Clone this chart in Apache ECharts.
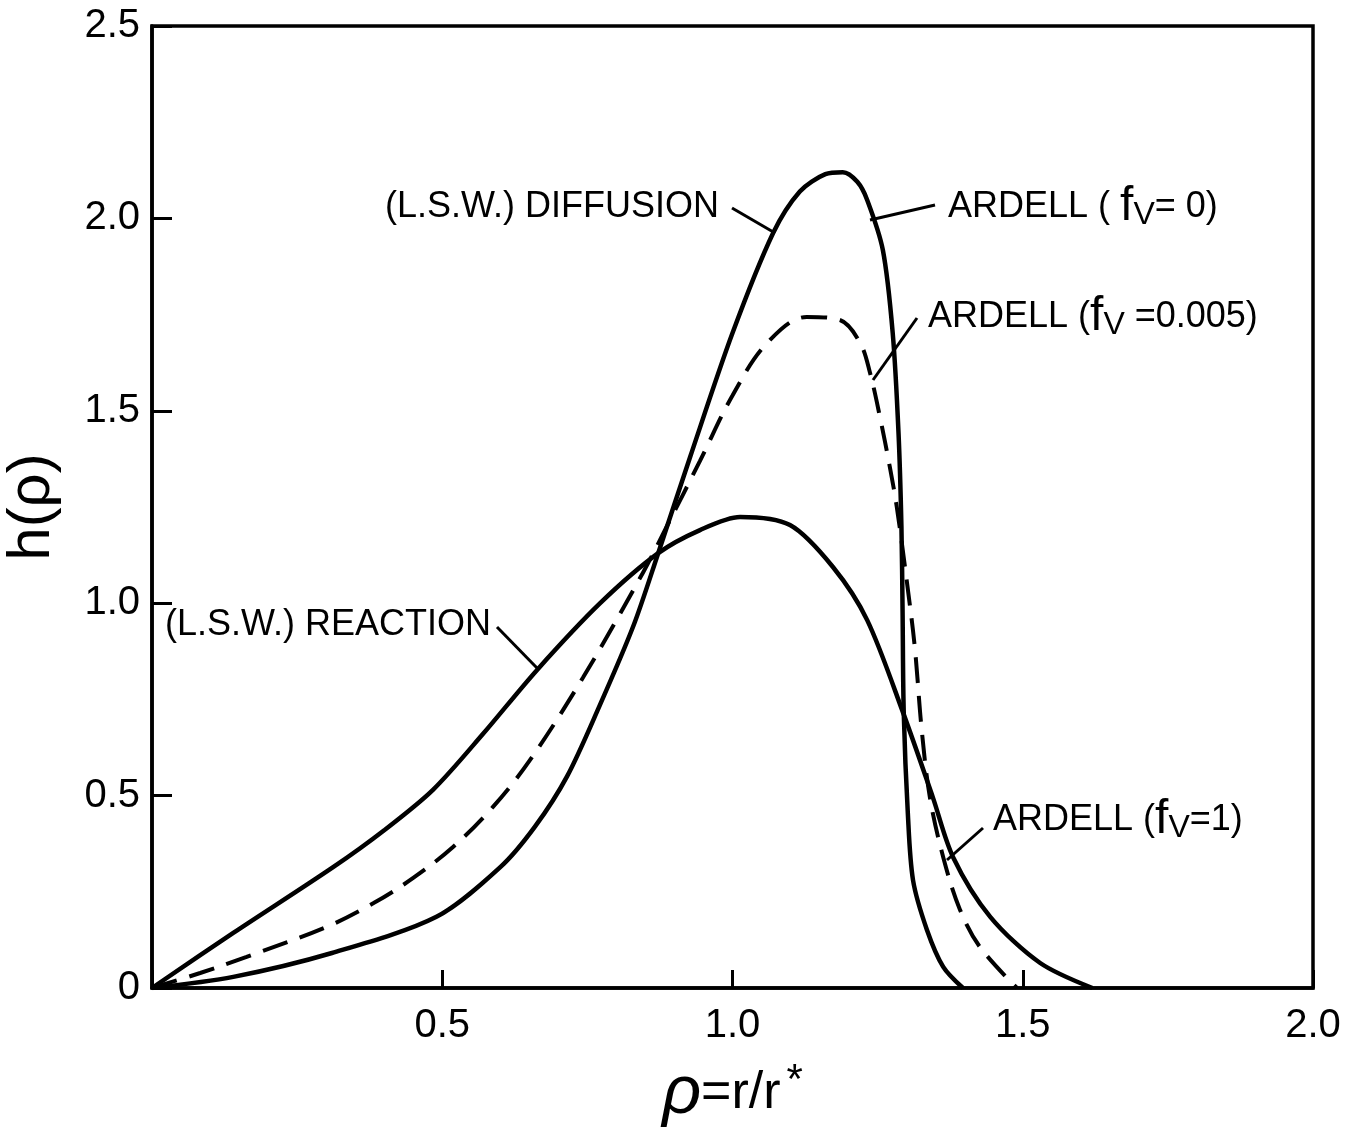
<!DOCTYPE html>
<html>
<head>
<meta charset="utf-8">
<script src="https://cdn.jsdelivr.net/npm/echarts@6/dist/echarts.min.js"></script>
<style>
  html, body { margin: 0; padding: 0; background: #fff; }
  #chart { width: 1345px; height: 1127px; }
</style>
</head>
<body>
<div id="chart"></div>
<script>
// curve points [rho, h(rho)]
var diffusionFv0 = [
  [0, 0], [0.14, 0.029], [0.31, 0.091], [0.49, 0.185], [0.60, 0.314],
  [0.66, 0.42], [0.715, 0.55], [0.77, 0.73], [0.829, 0.94], [0.872, 1.13],
  [0.927, 1.38], [1.0, 1.702], [1.07, 1.962], [1.116, 2.07], [1.16, 2.115],
  [1.19, 2.12], [1.215, 2.095], [1.232, 2.048], [1.259, 1.918], [1.276, 1.702],
  [1.286, 1.442], [1.291, 1.2], [1.293, 0.975], [1.295, 0.715], [1.302, 0.455],
  [1.311, 0.28], [1.335, 0.151], [1.363, 0.055], [1.397, 0]
]
var reactionFv1 = [
  [0, 0], [0.14, 0.143], [0.312, 0.314], [0.40, 0.41], [0.484, 0.515],
  [0.57, 0.66], [0.663, 0.826], [0.772, 1.0], [0.872, 1.13], [0.944, 1.19],
  [1.013, 1.224], [1.099, 1.203], [1.173, 1.094], [1.232, 0.956], [1.294, 0.715],
  [1.345, 0.496], [1.38, 0.34], [1.444, 0.185], [1.53, 0.065], [1.62, 0]
]
var ardellFv0005 = [
  [0, 0], [0.083, 0.039], [0.163, 0.081], [0.301, 0.159], [0.381, 0.22],
  [0.45, 0.286], [0.519, 0.367], [0.587, 0.47], [0.651, 0.592], [0.743, 0.808],
  [0.846, 1.08], [0.887, 1.2], [0.944, 1.37], [1.0, 1.54], [1.059, 1.675],
  [1.128, 1.744], [1.185, 1.736], [1.22, 1.676], [1.237, 1.598], [1.254, 1.484],
  [1.271, 1.354], [1.283, 1.25], [1.30, 1.06], [1.314, 0.886], [1.326, 0.67],
  [1.34, 0.496], [1.363, 0.34], [1.392, 0.203], [1.426, 0.107], [1.49, 0]
]
var xTickLabels = ['', '0.5', '1.0', '1.5', '2.0']
var yTickLabels = ['0', '0.5', '1.0', '1.5', '2.0', '2.5']

var font = 'Liberation Sans'
var chart = echarts.init(document.getElementById('chart'))

function label(x, y, txt) {
  return {
    type: 'text',
    x: x,
    y: y,
    style: {
      text: txt,
      font: '36px ' + font,
      fill: '#000',
      verticalAlign: 'middle',
      rich: {
        t: { fontSize: 36, fontFamily: font },
        f: { fontSize: 48, fontFamily: font, verticalAlign: 'bottom' },
        v: { fontSize: 32, fontFamily: font, padding: [16, 0, 0, 0] }
      }
    }
  }
}
function leader(x1, y1, x2, y2) {
  return {
    type: 'line',
    shape: { x1: x1, y1: y1, x2: x2, y2: y2 },
    style: { stroke: '#000', lineWidth: 3 }
  }
}

var lineStyle = { color: '#000', width: 4.5 }

var option = {
  backgroundColor: '#fff',
  animation: false,
  grid: {
    left: 152, right: 32, top: 26, bottom: 139,
    outerBoundsMode: 'none',
    show: true, borderColor: '#000', borderWidth: 3.5
  },
  xAxis: {
    type: 'value', min: 0, max: 2, interval: 0.5,
    name: '{r|ρ}{t|=r/r}{s|*}',
    nameLocation: 'middle', nameGap: 72,
    nameTextStyle: {
      rich: {
        r: { fontSize: 68, fontFamily: font, fontStyle: 'italic' },
        t: { fontSize: 52, fontFamily: font },
        s: { fontSize: 42, fontFamily: font, verticalAlign: 'top', padding: [0, 0, 18, 6] }
      }
    },
    axisLine: { lineStyle: { color: '#000', width: 3.5 } },
    axisTick: { inside: true, length: 18, lineStyle: { color: '#000', width: 3 } },
    axisLabel: {
      margin: 18, color: '#000', fontSize: 40, fontFamily: font,
      formatter: function (v) { return xTickLabels[Math.round(v / 0.5)] }
    },
    splitLine: { show: false }
  },
  yAxis: {
    type: 'value', min: 0, max: 2.5, interval: 0.5,
    name: 'h(ρ)', nameLocation: 'middle', nameGap: 90, nameRotate: 90,
    nameTextStyle: { color: '#000', fontSize: 60, fontFamily: font },
    axisLine: { lineStyle: { color: '#000', width: 3.5 } },
    axisTick: { inside: true, length: 20, lineStyle: { color: '#000', width: 3 } },
    axisLabel: {
      margin: 12, color: '#000', fontSize: 40, fontFamily: font,
      formatter: function (v) { return yTickLabels[Math.round(v / 0.5)] }
    },
    splitLine: { show: false }
  },
  series: [
    {
      name: 'ARDELL (fV=0)', type: 'line', data: diffusionFv0,
      smooth: 0.3, showSymbol: false, lineStyle: lineStyle
    },
    {
      name: 'ARDELL (fV=1)', type: 'line', data: reactionFv1,
      smooth: 0.3, showSymbol: false, lineStyle: lineStyle
    },
    {
      name: 'ARDELL (fV=0.005)', type: 'line', data: ardellFv0005,
      smooth: 0.35, showSymbol: false,
      lineStyle: { color: '#000', width: 4, type: [26, 13] }
    }
  ],
  graphic: [
    label(385, 207, '{t|(L.S.W.) DIFFUSION}'),
    leader(732, 208, 775, 233),
    label(948, 207, '{t|ARDELL ( }{f|f}{v|V}{t|= 0)}'),
    leader(870, 220, 935, 205),
    label(928, 317, '{t|ARDELL (}{f|f}{v|V}{t| =0.005)}'),
    leader(873, 380, 917, 318),
    label(165, 625, '{t|(L.S.W.) REACTION}'),
    leader(497, 627, 537, 668),
    label(993, 820, '{t|ARDELL (}{f|f}{v|V}{t|=1)}'),
    leader(983, 828, 947, 860)
  ]
}

option && chart.setOption(option)
</script>
</body>
</html>
